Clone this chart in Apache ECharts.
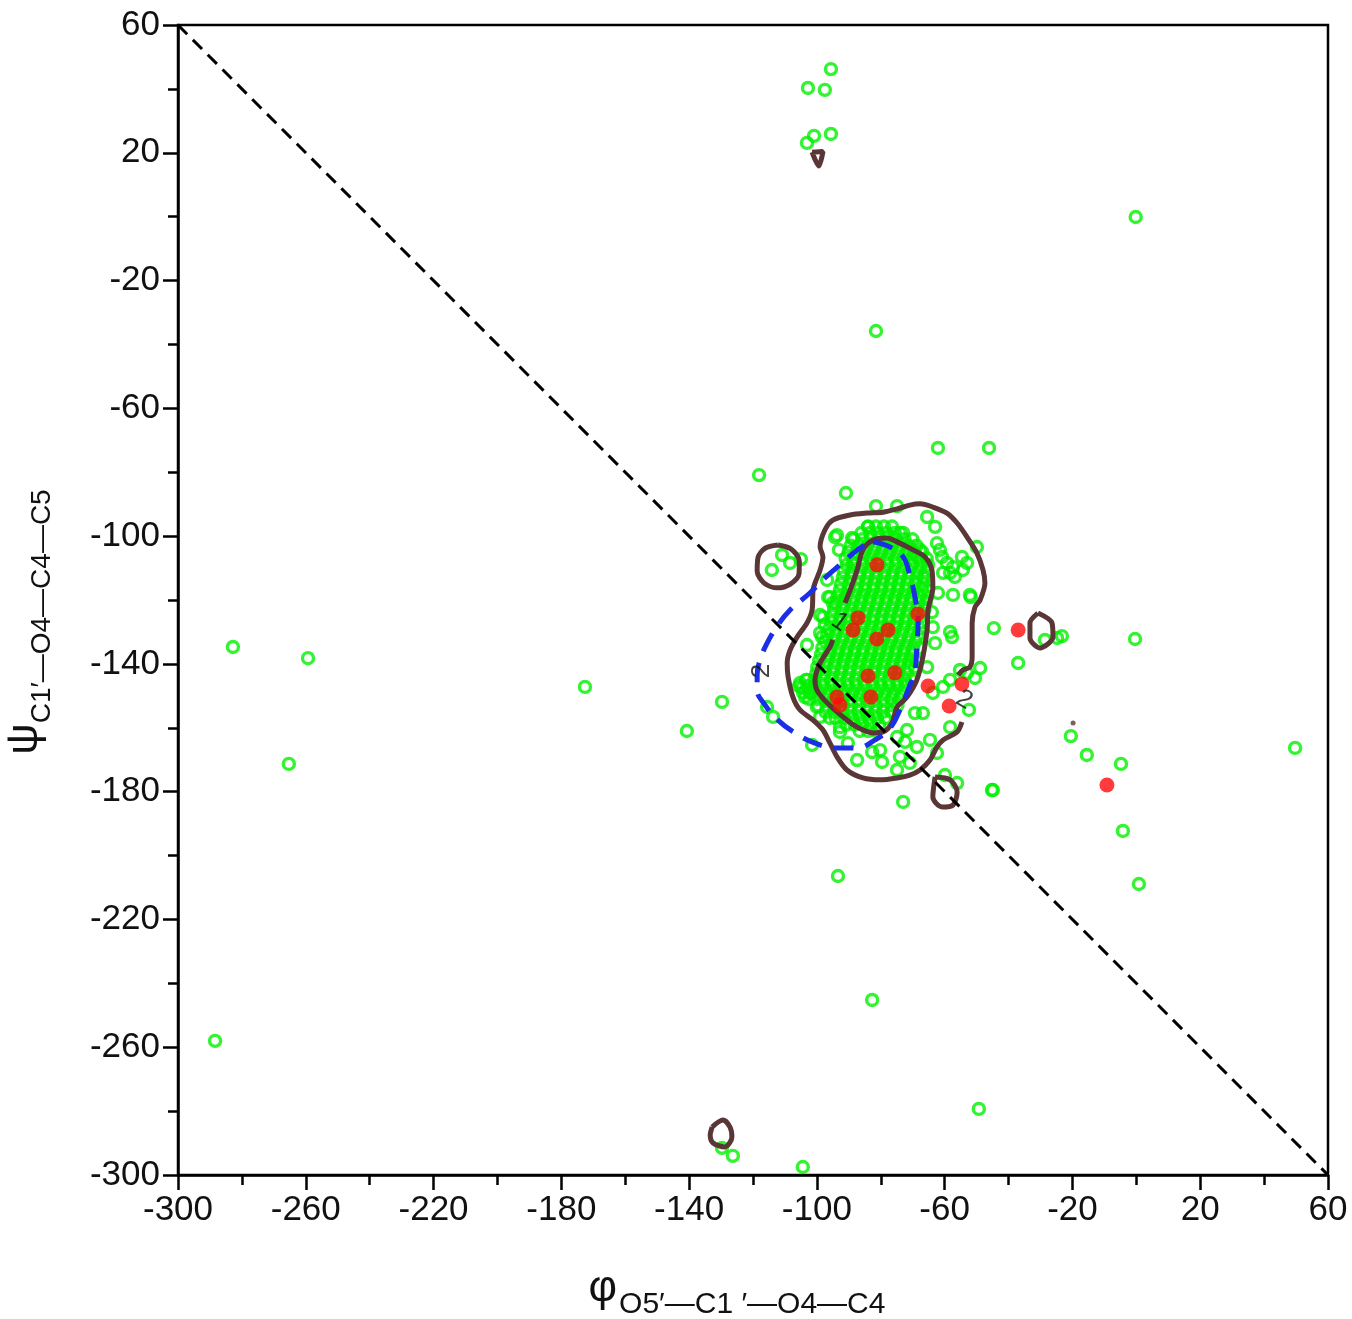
<!DOCTYPE html>
<html>
<head>
<meta charset="utf-8">
<title>phi / psi scatter</title>
<script src="https://cdn.jsdelivr.net/npm/echarts@6.0.0/dist/echarts.min.js"></script>
<style>
  html, body { margin: 0; padding: 0; background: #fff; }
  #chart { width: 1352px; height: 1319px; }
</style>
</head>
<body>
<div id="chart"></div>
<script>
// axis ranges (degrees)
const phiRange = [-300, 60];
const psiRange = [-300, 60];
const tickStep = 40;

// isolated green structures [phi, psi]
const greenFar = [
  [-102.8, 40.3], [-97.5, 39.7], [-95.6, 46.2], [-95.6, 25.9], [-100.9, 25.3], [-103.1, 23.1],
  [-0.2, -0.1], [-81.5, -35.8], [-118.1, -80.9], [-62.1, -72.4], [-46.1, -72.4], [-90.9, -86.5],
  [-282.8, -134.7], [-259.3, -138.2], [-172.6, -147.2], [-265.3, -171.3], [-129.7, -151.9], [-140.7, -161.0],
  [-93.4, -206.4], [-82.7, -245.2], [-288.4, -258.0], [-49.3, -279.3], [-129.7, -291.5], [-126.3, -294.0],
  [-104.4, -297.5], [-37.0, -139.7], [-44.6, -128.8], [-0.4, -132.2], [49.7, -166.3],
  [-28.6, -132.5], [-24.8, -131.9], [-23.3, -131.3], [-20.5, -162.6], [-15.5, -168.5], [-4.8, -171.3],
  [-4.2, -192.3], [0.8, -208.9], [-44.9, -179.5], [-73.0, -183.2]
];

// green structures around the main cluster
const greenNear = [
  [-81.5, -90.6], [-74.9, -90.6], [-63.0, -97.1], [-65.5, -94.0], [-74.0, -99.0], [-94.3, -100.3],
  [-93.1, -104.3], [-89.0, -100.6], [-88.7, -108.4], [-96.8, -113.7], [-84.0, -97.1], [-93.7, -99.7],
  [-49.9, -103.4], [-62.4, -102.2], [-61.5, -104.3], [-60.8, -106.5], [-59.3, -108.4], [-58.3, -111.5],
  [-56.8, -112.8], [-54.6, -106.5], [-53.0, -108.4], [-54.3, -110.6], [-60.5, -111.5], [-57.4, -109.7],
  [-67.7, -104.3], [-68.7, -106.5], [-66.8, -112.8], [-51.8, -119.1],
  [-62.1, -117.8], [-57.4, -118.4], [-52.1, -118.4], [-64.0, -123.8], [-63.7, -128.5], [-58.3, -130.0],
  [-57.7, -131.6], [-63.0, -133.5], [-65.5, -141.0], [-55.2, -141.9], [-53.0, -142.8], [-48.9, -141.3],
  [-50.5, -144.4], [-58.3, -145.0], [-60.5, -147.2], [-63.7, -149.1], [-52.4, -154.4],
  [-69.3, -155.4], [-66.8, -155.4], [-58.3, -159.8], [-71.8, -160.7], [-74.9, -162.9], [-72.4, -164.4],
  [-68.7, -166.0], [-64.6, -163.8], [-74.0, -169.1], [-70.9, -171.0], [-74.9, -173.2], [-62.4, -167.9],
  [-59.9, -174.8], [-56.1, -177.3], [-45.2, -179.5],
  [-103.7, -150.4], [-100.0, -153.5], [-95.9, -156.9], [-92.8, -161.3], [-101.5, -165.4], [-90.3, -164.8],
  [-87.4, -170.1], [-80.2, -167.0], [-79.6, -170.7], [-82.7, -167.6], [-103.1, -145.0], [-101.2, -147.2],
  [-104.7, -147.5], [-115.6, -153.5], [-113.7, -156.6], [-105.3, -146.0], [-102.2, -149.1], [-99.0, -156.6],
  [-92.8, -159.8], [-99.0, -124.7], [-97.5, -127.8], [-98.4, -131.6], [-96.5, -119.1], [-95.0, -120.9],
  [-95.9, -119.1], [-98.1, -125.3], [-99.0, -130.3], [-103.1, -134.1],
  [-114.1, -110.6], [-110.9, -105.9], [-108.4, -108.4], [-105.0, -107.2]
];

// dense core: [psi, [phi values]]
const coreRows = [
  [-97, [-84, -81.5, -79, -76.5]],
  [-99, [-86, -83.3, -80.8, -78.2, -75.6, -73]],
  [-101, [-88.5, -85.8, -83.1, -80.4, -77.9, -75.2, -72.6, -70.1]],
  [-103, [-89.4, -86.9, -84.2, -81.6, -79, -76.4, -73.9, -71.3, -68.8]],
  [-105, [-90.1, -87.6, -85, -82.3, -79.8, -77.2, -74.6, -72, -69.5, -67]],
  [-107, [-91, -88.4, -85.8, -83.3, -80.7, -78.1, -75.5, -73, -70.4, -67.8, -65.6]],
  [-109, [-90.7, -88.1, -85.5, -82.9, -80.4, -77.8, -75.2, -72.6, -70.1, -67.5, -65.2]],
  [-111, [-91.6, -89, -86.4, -83.8, -81.3, -78.7, -76.1, -73.5, -71, -68.4, -65.8]],
  [-113, [-91.9, -89.4, -86.8, -84.2, -81.6, -79.1, -76.5, -73.9, -71.3, -68.8, -66.2]],
  [-115, [-92.5, -89.9, -87.3, -84.8, -82.2, -79.6, -77, -74.5, -71.9, -69.3, -66.7]],
  [-117, [-92.8, -90.2, -87.6, -85, -82.5, -79.9, -77.3, -74.7, -72.2, -69.6, -67, -65.2]],
  [-119, [-93.6, -91, -88.4, -85.8, -83.3, -80.7, -78.1, -75.5, -73, -70.4, -67.8, -65.5]],
  [-121, [-94, -91.4, -88.8, -86.2, -83.7, -81.1, -78.5, -75.9, -73.4, -70.8, -68.2, -65.9]],
  [-123, [-94.6, -92, -89.4, -86.9, -84.3, -81.7, -79.1, -76.6, -74, -71.4, -68.8, -66.3]],
  [-125, [-95.2, -92.6, -90, -87.5, -84.9, -82.3, -79.7, -77.2, -74.6, -72, -69.4, -67]],
  [-127, [-95.5, -92.9, -90.3, -87.8, -85.2, -82.6, -80, -77.5, -74.9, -72.3, -69.7, -67.3]],
  [-129, [-96.1, -93.5, -90.9, -88.4, -85.8, -83.2, -80.6, -78.1, -75.5, -72.9, -70.3, -67.8]],
  [-131, [-96.8, -94.2, -91.6, -89, -86.5, -83.9, -81.3, -78.7, -76.2, -73.6, -71, -68.4]],
  [-133, [-97.4, -94.8, -92.2, -89.7, -87.1, -84.5, -81.9, -79.4, -76.8, -74.2, -71.6, -69.1]],
  [-135, [-98.3, -95.7, -93.1, -90.5, -88, -85.4, -82.8, -80.2, -77.7, -75.1, -72.5, -69.9, -67.8]],
  [-137, [-98.7, -96.1, -93.5, -91, -88.4, -85.8, -83.2, -80.7, -78.1, -75.5, -72.9, -70.4]],
  [-139, [-99.3, -96.7, -94.1, -91.6, -89, -86.4, -83.8, -81.3, -78.7, -76.1, -73.5, -71, -68.9]],
  [-141, [-99.9, -97.3, -94.7, -92.1, -89.6, -87, -84.4, -81.8, -79.3, -76.7, -74.1, -71.5, -69.4]],
  [-143, [-100.2, -97.6, -95, -92.5, -89.9, -87.3, -84.7, -82.2, -79.6, -77, -74.4, -71.9]],
  [-145, [-103.4, -100.8, -98.2, -95.6, -93.1, -90.5, -87.9, -85.3, -82.8, -80.2, -77.6, -75, -72.5, -70.4]],
  [-147, [-105.6, -103, -100.5, -97.9, -95.3, -92.7, -90.2, -87.6, -85, -82.4, -79.9, -77.3, -74.7, -72.2]],
  [-149, [-104.3, -101.7, -99.1, -96.6, -94, -91.4, -88.8, -86.3, -83.7, -81.1, -78.5, -76, -73.4]],
  [-151, [-102.5, -99.9, -97.3, -94.8, -92.2, -89.6, -87, -84.5, -81.9, -79.3, -76.7, -74.2]],
  [-153, [-99.6, -97, -94.4, -91.8, -89.3, -86.7, -84.1, -81.5, -79, -76.4, -74.8]],
  [-155, [-97.3, -94.7, -92.1, -89.6, -87, -84.4, -81.8, -79.3, -76.7]],
  [-157, [-94.1, -91.5, -88.9, -86.4, -83.8, -81.2, -78.6]],
  [-159, [-90.8, -88.2, -85.7, -83.1, -80.5]],
  [-161, [-86.6, -84, -81.4]]
];

// red structures
const redPoints = [
  [-81.2, -109.0], [-87.1, -125.6], [-88.7, -129.4], [-81.2, -132.2], [-77.7, -129.4], [-68.4, -124.4],
  [-84.0, -143.8], [-75.6, -142.8], [-83.1, -150.4], [-93.7, -150.4], [-92.8, -152.9], [-65.2, -146.9],
  [-54.6, -146.3], [-58.6, -153.2], [-37.0, -129.4], [-9.2, -177.9]
];

// brown contour lines
const outerContour = [
  [-54.6, -158.2], [-56.1, -161.3], [-60.5, -163.8], [-62.4, -166.0], [-64.6, -170.1], [-67.7, -173.2],
  [-70.9, -174.8], [-74.9, -175.7], [-80.2, -176.3], [-85.6, -175.7], [-90.6, -173.2], [-93.7, -169.1],
  [-95.9, -164.8], [-98.1, -160.7], [-101.2, -157.6], [-105.3, -154.4], [-107.5, -150.4], [-109.0, -144.1],
  [-109.3, -139.7], [-108.4, -135.7], [-106.2, -131.6], [-103.1, -127.2], [-101.5, -123.1], [-101.2, -116.9],
  [-100.6, -114.7], [-99.0, -110.6], [-98.1, -106.5], [-99.0, -103.4], [-97.5, -98.1], [-95.0, -95.0],
  [-89.6, -93.4], [-84.3, -92.8], [-79.3, -92.5], [-74.9, -91.5], [-70.9, -90.3], [-67.7, -89.9],
  [-63.7, -90.9], [-59.3, -92.8], [-56.1, -95.9], [-53.0, -100.3], [-49.9, -105.3], [-48.0, -110.6],
  [-47.4, -114.7], [-48.9, -120.0], [-50.5, -122.2], [-51.4, -127.2], [-51.4, -132.5], [-51.4, -137.8],
  [-52.1, -141.0], [-54.3, -141.9], [-55.8, -143.5]
];
const innerContour = [
  [-91.2, -120.9], [-89.6, -116.9], [-87.4, -110.6], [-85.6, -104.3], [-82.4, -101.2], [-78.1, -100.6],
  [-74.9, -101.8], [-69.9, -104.3], [-66.2, -106.5], [-64.0, -110.6], [-63.7, -115.9], [-65.2, -123.1],
  [-65.5, -129.4], [-66.8, -137.8], [-68.7, -145.0], [-71.8, -150.4], [-74.9, -153.5], [-76.5, -158.5],
  [-79.3, -161.3], [-82.4, -161.6], [-87.4, -159.8], [-91.8, -156.6], [-96.8, -152.2], [-100.0, -148.2],
  [-100.6, -145.0], [-99.0, -139.7], [-95.9, -134.7], [-95.0, -132.5]
];
const loopLeft = [
  [-112.2, -102.8], [-108.0, -104.1], [-105.5, -107.8], [-105.6, -111.8], [-108.3, -115.0], [-112.4, -116.2],
  [-116.5, -114.7], [-118.7, -111.0], [-118.4, -106.6], [-116.2, -103.8], [-112.2, -102.8]
];
const loopRight = [
  [-30.8, -124.1], [-26.4, -127.2], [-26.1, -131.6], [-30.2, -135.0], [-33.3, -131.9], [-33.3, -127.2], [-30.8, -124.1]
];
const loopLow = [
  [-63.0, -175.4], [-58.3, -176.3], [-56.1, -180.1], [-57.4, -184.2], [-60.8, -184.8], [-63.7, -181.7], [-63.0, -175.4]
];
const loopTop = [[-101.5, 20.2], [-98.1, 20.4], [-99.4, 15.9], [-101.5, 20.2]];
const loopBottom = [
  [-132.8, -285.0], [-129.4, -282.8], [-127.2, -285.0], [-126.6, -288.1], [-128.8, -291.2],
  [-132.5, -290.0], [-133.4, -287.5], [-132.8, -285.0]
];
const brownDot = [[-19.8, -158.5]];

// blue dashed contour
const blueContour = [
  [-82.4, -101.8], [-77.1, -103.4], [-73.0, -106.5], [-70.9, -112.2], [-69.3, -119.1], [-68.3, -126.3],
  [-68.7, -134.1], [-69.3, -141.9], [-71.5, -148.2], [-74.0, -154.4], [-77.1, -160.1], [-81.8, -163.8],
  [-87.4, -166.3], [-94.3, -166.3], [-100.6, -164.8], [-106.9, -161.6], [-112.2, -157.6], [-116.2, -152.9],
  [-118.7, -148.2], [-118.7, -143.5], [-117.8, -138.8], [-115.6, -133.5], [-112.2, -127.8], [-108.4, -123.1],
  [-102.2, -117.8], [-97.5, -113.1], [-92.8, -109.0], [-86.5, -103.7], [-82.4, -101.8]
];

// contour level labels [text, phi, psi]
const contourLabels = [['1', -92.8, -126.9], ['2', -117.2, -142.2], ['2', -53.9, -151.3]];

// dashed diagonal
const diagonal = [[-300, 60], [60, -300]];

const corePoints = [];
coreRows.forEach(([psi, phis]) => phis.forEach(phi => corePoints.push([phi, psi])));

const GREEN = '#00f000';
const BROWN = '#5a3636';
const labelRotate = [-35, 90, -30];
const FONT = 'Liberation Sans, Arial, sans-serif';

function contourSeries(data) {
  return {
    type: 'line', data, showSymbol: false, smooth: 0.3, z: 3, silent: true,
    lineStyle: { color: BROWN, width: 5 }
  };
}

const axisCommon = {
  type: 'value',
  interval: tickStep,
  nameLocation: 'middle',
  axisLine: { show: true, onZero: false, lineStyle: { color: '#000', width: 2.5 } },
  axisTick: { show: true, inside: false, length: 15, lineStyle: { color: '#000', width: 2.5 } },
  minorTick: { show: true, splitNumber: 2, length: 10, lineStyle: { color: '#000', width: 2.5 } },
  splitLine: { show: false },
  minorSplitLine: { show: false },
  axisLabel: { fontSize: 35, color: '#111', fontFamily: FONT, margin: 18, showMinLabel: true, showMaxLabel: true }
};

const chart = echarts.init(document.getElementById('chart'));
chart.setOption({
  animation: false,
  backgroundColor: '#fff',
  grid: {
    left: 178, top: 25, width: 1150, height: 1150,
    containLabel: false, outerBoundsMode: 'none',
    show: true, borderColor: '#000', borderWidth: 2.5, backgroundColor: 'transparent'
  },
  xAxis: Object.assign({}, axisCommon, {
    min: phiRange[0], max: phiRange[1],
    name: '{a|φ}{b|O5′—C1 ′—O4—C4}',
    nameGap: 92,
    nameTextStyle: {
      padding: [0, 32, 0, 0],
      rich: {
        a: { fontSize: 44, color: '#111', fontFamily: FONT, verticalAlign: 'bottom', padding: [0, 2, 9, 0] },
        b: { fontSize: 30, color: '#111', fontFamily: FONT, verticalAlign: 'bottom' }
      }
    }
  }),
  yAxis: Object.assign({}, axisCommon, {
    min: psiRange[0], max: psiRange[1],
    name: '{a|ψ}{b|C1′—O4—C4—C5}',
    nameGap: 122,
    nameTextStyle: {
      padding: [0, 44, 0, 0],
      rich: {
        a: { fontSize: 44, color: '#111', fontFamily: FONT, verticalAlign: 'bottom', padding: [0, 0, 9, 0] },
        b: { fontSize: 28, color: '#111', fontFamily: FONT, verticalAlign: 'bottom' }
      }
    }
  }),
  series: [
    {
      type: 'scatter', z: 2, silent: true,
      data: greenFar.concat(greenNear, corePoints),
      symbol: 'circle', symbolSize: 11,
      itemStyle: { color: 'rgba(0,0,0,0)', borderColor: GREEN, borderWidth: 3.4 }
    },
    contourSeries(outerContour),
    contourSeries(innerContour),
    contourSeries(loopLeft),
    contourSeries(loopRight),
    contourSeries(loopLow),
    contourSeries(loopTop),
    contourSeries(loopBottom),
    {
      type: 'scatter', z: 3, silent: true, data: brownDot, symbolSize: 5,
      itemStyle: { color: BROWN }
    },
    {
      type: 'line', data: blueContour, showSymbol: false, smooth: 0.4, z: 3, silent: true,
      lineStyle: { color: '#1a2fe6', width: 5, type: [20, 12] }
    },
    {
      type: 'scatter', z: 4, silent: true, data: redPoints, symbolSize: 15,
      itemStyle: { color: '#ff0a0a' }
    },
    {
      type: 'line', data: diagonal, showSymbol: false, z: 5, silent: true,
      lineStyle: { color: '#000', width: 3, type: [13, 8] }
    },
    {
      type: 'scatter', z: 6, silent: true, symbolSize: 0,
      data: contourLabels.map((d, i) => ({
        value: [d[1], d[2]],
        label: { show: true, formatter: d[0], rotate: labelRotate[i], position: 'inside',
          fontSize: 26, color: '#111', fontFamily: FONT }
      }))
    }
  ]
});
</script>
</body>
</html>
